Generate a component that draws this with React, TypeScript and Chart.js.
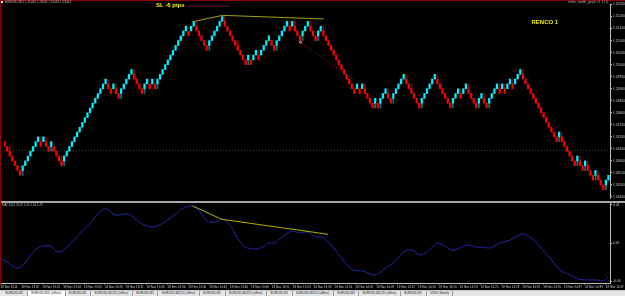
import React, { useEffect, useRef } from "react";
import { Chart, registerables } from "chart.js";

Chart.register(...registerables);

const FONT = "'Liberation Sans', Arial, sans-serif";

// ---- Renko bricks: U = up brick, D = down brick; lowercase = brick with a wick ----
const brickRuns = [
  "DDdDDDD", "uUUUUUU", "dUdDuDDDd", "uUUUUUUUUUUUUUUUU", "dDUdDuUUUU",
  "dDDDuUDUD", "uUUUUUUUUUUU", "DUUdDDDD", "uUUUUU", "dDDDDdDDD",
  "uDUUdUUUUDD", "uUUUUdUdDDuUUdDDuUd", "DDDDDDDDDDDD", "UDUdDDDuDuUUdD",
  "uUUUUdDdDDD", "uUUUUUdDDDDD", "uUUdUUdDDDuUdD", "uUUUdUdUUdUUU",
  "dDDDDDDDDDDDDD", "udDDDDDudDudDDudDDuU",
];
const startLevel = 10;
const basePrice = 1.2448;
const brickSize = 0.0002;

const priceTickLabels = [
  "1.24450", "1.24500", "1.24550", "1.24600", "1.24650", "1.24700", "1.24750",
  "1.24800", "1.24850", "1.24900", "1.24950", "1.25000", "1.25050", "1.25100",
  "1.25150", "1.25200", "1.25250",
];
const levelLinePrice = 1.24643;

// trend objects on the price window (x = brick index, y = price)
const slTrendX = [73.3, 84.1, 123.1];
const slTrendY = [1.2518, 1.25205, 1.2519];
const trailX = [114.0, 135.2];
const trailY = [1.25095, 1.24934];
const markX = [114.2];
const markY = [1.25093];
const topLineX = [70.7, 86.8];
const topLineY = [1.25244, 1.25244];

// MACD window
const macdX = [
  -0.2, 2.5, 6.3, 9.4, 12.5, 15.1, 19.0, 22.0, 25.5, 30.5, 34.3, 38.9, 40.8, 43.9,
  48.5, 50.8, 53.5, 58.4, 62.3, 67.6, 70.0, 73.8, 76.5, 79.1, 82.2, 84.9, 88.0,
  90.6, 93.7, 97.5, 100.6, 102.5, 105.2, 107.9, 111.7, 114.8, 117.9, 120.5, 123.2,
  127.4, 131.3, 135.1, 138.9, 143.5, 148.1, 150.4, 155.0, 157.7, 160.8, 163.5,
  167.3, 169.6, 173.1, 176.1, 178.8, 181.9, 184.5, 187.6, 191.4, 195.3, 199.9,
  203.0, 206.8, 210.6, 214.4, 218.3, 221.3, 224.8, 228.6, 230.9, 232.9,
];
const macdY = [
  -0.015, -0.019, -0.025, -0.02, -0.009, -0.004, -0.003, -0.009, -0.004, 0.01,
  0.02, 0.033, 0.034, 0.028, 0.029, 0.026, 0.02, 0.016, 0.02, 0.03, 0.035, 0.037,
  0.031, 0.022, 0.021, 0.024, 0.018, 0.006, -0.004, -0.006, -0.004, 0.0, 0.0,
  0.006, 0.012, 0.01, 0.011, 0.006, 0.006, -0.004, -0.017, -0.027, -0.028, -0.032,
  -0.024, -0.02, -0.008, -0.007, -0.012, -0.009, 0.0, -0.002, -0.007, -0.005,
  -0.002, -0.004, -0.004, -0.005, 0.0, 0.003, 0.009, 0.006, -0.004, -0.015,
  -0.027, -0.032, -0.036, -0.037, -0.037, -0.038, -0.034,
];
const macdTrendX = [73.7, 84.8, 125.6];
const macdTrendY = [0.037, 0.0237, 0.0087];
const macdTicks = [-0.038, 0, 0.038];
const macdTickLabels = ["-0.04", "0.00", "0.04"];

const timeSlots = [
  0, 8, 16, 24, 32, 40, 48, 56, 64, 72, 80, 88, 96, 104, 112, 120, 128, 136, 144,
  152, 160, 168, 176, 184, 192, 200, 208, 216, 224, 232,
];
const timeLabels = [
  "18 Nov 2014", "18 Nov 13:20", "18 Nov 13:22", "18 Nov 13:24", "18 Nov 13:26",
  "18 Nov 13:29", "18 Nov 13:31", "18 Nov 13:33", "18 Nov 13:36", "18 Nov 13:40",
  "18 Nov 13:42", "18 Nov 13:46", "18 Nov 13:48", "18 Nov 13:51", "18 Nov 13:53",
  "18 Nov 13:58", "18 Nov 14:01", "18 Nov 14:05", "18 Nov 14:09", "18 Nov 14:12",
  "18 Nov 14:16", "18 Nov 14:20", "18 Nov 14:23", "18 Nov 14:25", "18 Nov 14:28",
  "18 Nov 14:32", "18 Nov 14:35", "18 Nov 14:37", "18 Nov 14:39", "18 Nov 14:42",
];

const tabLabels = [
  "EURUSD,M1", "EURUSD,M11 (offline)", "EURUSD,M1", "EURUSD,M2220 (offline)",
  "EURUSD,M1", "EURUSD,M2220 (offline)", "EURUSD,M1", "EURUSD,M2220 (offline)",
  "EURUSD,M1", "EURUSD,M1110 (offline)", "EURUSD,M1", "EURUSD,M2220 (offline)",
  "EURUSD,M1", "USDX,Weekly",
];
const activeTab = 1;

const headerText = "EURUSD,M11  1.25063 1.25063 1.25063 1.25063";
const indicatorName = "renko_candle_grnpd_v1_4 (1)";
const macdName = "MACD(12,26,9) 1.00 1.34 1.29";
const slText = "SL -6 pips";
const renkoText = "RENCO 1";

const UP = "#00f0ff";
const DOWN = "#ff0000";
const UP_WICK = "#007a80";
const DOWN_WICK = "#8a0000";

const pts = (xs: number[], ys: number[]) => xs.map((x, i) => ({ x, y: ys[i] }));

export default function App() {
  const mainRef = useRef<HTMLCanvasElement>(null);
  const macdRef = useRef<HTMLCanvasElement>(null);

  useEffect(() => {
    const dirs = brickRuns.join("").split("");
    let lvl = startLevel;
    const levels = dirs.map((c) => {
      lvl += c.toUpperCase() === "U" ? 1 : -1;
      return lvl;
    });
    const N = dirs.length;
    const xMin = -0.2;
    const xMax = N - 0.4;

    const bodies = levels.map((L, i) => ({
      x: i,
      y: [basePrice + L * brickSize, basePrice + (L + 1) * brickSize],
    }));
    const bodyColors = dirs.map((c) => (c.toUpperCase() === "U" ? UP : DOWN));
    const wickData: any[] = [];
    const wickColors: string[] = [];
    dirs.forEach((c, i) => {
      const lo = basePrice + levels[i] * brickSize;
      if (c === "u") {
        wickData.push({ x: i, y: [lo - brickSize, lo] });
        wickColors.push(UP_WICK);
      } else if (c === "d") {
        const hi = lo + brickSize;
        wickData.push({ x: i, y: [hi, hi + brickSize] });
        wickColors.push(DOWN_WICK);
      }
    });
    const priceTickValues = priceTickLabels.map(Number);

    const main = new Chart(mainRef.current as HTMLCanvasElement, {
      type: "bar",
      data: {
        datasets: [
          { type: "line", data: pts(slTrendX, slTrendY), borderColor: "#a3a312", borderWidth: 1, pointRadius: 0, order: 0 } as any,
          { type: "line", data: pts(trailX, trailY), borderColor: "#a01818", borderWidth: 1, borderDash: [1, 1.6], pointRadius: 0, order: 0 } as any,
          { type: "line", data: pts(markX, markY), showLine: false, pointRadius: 1.3, pointBackgroundColor: "#ff9a9a", pointBorderWidth: 0, order: 0 } as any,
          { type: "line", data: pts(topLineX, topLineY), borderColor: "#5e1c46", borderWidth: 1, pointRadius: 0, order: 0 } as any,
          { type: "line", data: [{ x: xMin, y: levelLinePrice }, { x: xMax, y: levelLinePrice }], borderColor: "#2e4a3c", borderWidth: 1, borderDash: [1, 2], pointRadius: 0, order: 3 } as any,
          { type: "bar", data: bodies, backgroundColor: bodyColors, barThickness: 1.6, grouped: false, borderWidth: 0, order: 1 } as any,
          { type: "bar", data: wickData, backgroundColor: wickColors, barThickness: 1, grouped: false, borderWidth: 0, order: 2 } as any,
        ],
      },
      options: {
        responsive: false,
        animation: false,
        devicePixelRatio: 1,
        events: [],
        layout: { padding: { left: 0, right: 0, top: 1, bottom: 1 } },
        plugins: { legend: { display: false }, tooltip: { enabled: false } },
        scales: {
          x: { type: "linear", display: false, min: xMin, max: xMax, offset: false },
          y: {
            type: "linear",
            position: "right",
            min: 1.244457,
            max: 1.252522,
            afterBuildTicks: (s: any) => {
              s.ticks = priceTickValues.map((v) => ({ value: v }));
            },
            afterFit: (s: any) => {
              s.width = 15;
              s.paddingTop = 0;
              s.paddingBottom = 0;
            },
            ticks: {
              callback: (_v: any, i: number) => priceTickLabels[i],
              color: "#c8c8c8",
              font: { family: FONT, size: 3.3 },
              padding: 1,
              autoSkip: false,
            },
            grid: { drawOnChartArea: false, drawTicks: true, tickLength: 2, color: "#bdbdbd" },
            border: { display: true, color: "#bdbdbd", width: 1 },
          } as any,
        },
      } as any,
    });

    const macd = new Chart(macdRef.current as HTMLCanvasElement, {
      type: "line",
      data: {
        datasets: [
          { data: pts(macdTrendX, macdTrendY), borderColor: "#b0b000", borderWidth: 1, pointRadius: 0, tension: 0, order: 0 },
          { data: pts(macdX, macdY), borderColor: "#2424aa", borderWidth: 1, pointRadius: 0, tension: 0.3, order: 1 },
        ],
      },
      options: {
        responsive: false,
        animation: false,
        devicePixelRatio: 1,
        events: [],
        layout: { padding: { left: 0, right: 0, top: 1.5, bottom: 0 } },
        plugins: { legend: { display: false }, tooltip: { enabled: false } },
        scales: {
          x: {
            type: "linear",
            min: xMin,
            max: xMax,
            offset: false,
            afterBuildTicks: (s: any) => {
              s.ticks = timeSlots.map((v) => ({ value: v }));
            },
            afterFit: (s: any) => {
              s.height = 7;
              s.paddingLeft = 0;
              s.paddingRight = 0;
            },
            ticks: {
              callback: (_v: any, i: number) => timeLabels[i],
              align: "start",
              autoSkip: false,
              maxRotation: 0,
              minRotation: 0,
              color: "#c8c8c8",
              font: { family: FONT, size: 3 },
              padding: 0.5,
            },
            grid: { drawOnChartArea: false, drawTicks: true, tickLength: 1.5, color: "#9a9a9a" },
            border: { display: true, color: "#bdbdbd" },
          } as any,
          y: {
            type: "linear",
            position: "right",
            min: -0.04,
            max: 0.0395,
            afterBuildTicks: (s: any) => {
              s.ticks = macdTicks.map((v) => ({ value: v }));
            },
            afterFit: (s: any) => {
              s.width = 15;
              s.paddingTop = 0;
              s.paddingBottom = 0;
            },
            ticks: {
              callback: (_v: any, i: number) => macdTickLabels[i],
              color: "#c8c8c8",
              font: { family: FONT, size: 3.3 },
              padding: 1,
            },
            grid: { drawOnChartArea: false, drawTicks: true, tickLength: 2, color: "#bdbdbd" },
            border: { display: true, color: "#bdbdbd" },
          } as any,
        },
      } as any,
    });

    return () => {
      main.destroy();
      macd.destroy();
    };
  }, []);

  const tiny: React.CSSProperties = {
    position: "absolute",
    fontFamily: FONT,
    fontSize: 3,
    lineHeight: "3px",
    color: "#b8b8b8",
    whiteSpace: "nowrap",
  };
  const big: React.CSSProperties = {
    position: "absolute",
    fontFamily: FONT,
    fontSize: 6,
    lineHeight: "6px",
    color: "#f0f000",
    whiteSpace: "nowrap",
    fontWeight: "bold",
  };

  return (
    <div style={{ position: "fixed", left: 0, top: 0, width: 625, height: 296, background: "#000", overflow: "hidden" }}>
      <canvas ref={mainRef} width={625} height={202} style={{ position: "absolute", left: 0, top: 0, width: 625, height: 202 }} />
      <canvas ref={macdRef} width={625} height={88} style={{ position: "absolute", left: 0, top: 202, width: 625, height: 88 }} />
      <div style={{ position: "absolute", left: 0, top: 201, width: 625, height: 2, background: "#a8a8a8" }} />
      <div style={{ position: "absolute", left: 0, top: 0, width: 625, height: 1, background: "#900000" }} />
      <div style={{ position: "absolute", left: 0, top: 0, width: 1, height: 284, background: "#900000" }} />
      <div style={{ position: "absolute", left: 1, top: 1, width: 2, height: 1.5, background: "#ffffff" }} />
      <div style={{ ...tiny, left: 5, top: 0.7 }}>{headerText}</div>
      <div style={{ ...tiny, right: 17, top: 0.7 }}>{indicatorName}</div>
      <div style={{ ...tiny, left: 2, top: 203.6 }}>{macdName}</div>
      <div style={{ ...big, left: 156, top: 1.9 }}>{slText}</div>
      <div style={{ ...big, left: 531.5, top: 19.2 }}>{renkoText}</div>
      <div
        style={{
          position: "absolute",
          left: 0,
          top: 290,
          width: 625,
          height: 6,
          background: "#e6e6e6",
          borderTop: "1px solid #c8c8c8",
          boxSizing: "border-box",
          display: "flex",
          alignItems: "stretch",
          paddingLeft: 2,
        }}
      >
        {tabLabels.map((t, i) => (
          <div
            key={i}
            style={{
              fontFamily: FONT,
              fontSize: 3,
              lineHeight: "5px",
              color: "#202020",
              padding: "0 3.5px",
              whiteSpace: "nowrap",
              borderRight: "1px solid #9a9a9a",
              background: i === activeTab ? "#ffffff" : "transparent",
            }}
          >
            {t}
          </div>
        ))}
      </div>
    </div>
  );
}
